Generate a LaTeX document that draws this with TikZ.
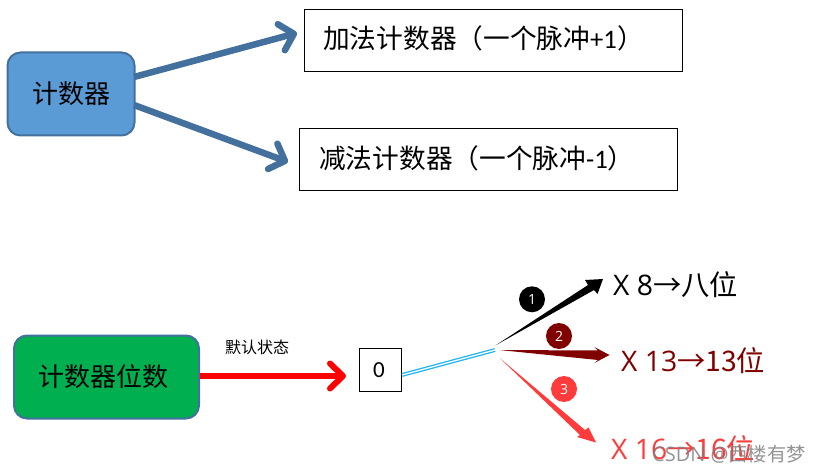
\documentclass[tikz,border=0pt]{standalone}
\usepackage{fontspec}
\setmainfont{Noto Sans CJK SC}
\newfontfamily\latinf{Carlito}
\newfontfamily\yah{Open Sans}
\usetikzlibrary{arrows.meta,calc}
\definecolor{blueedge}{HTML}{44709D}
\definecolor{bluefill}{HTML}{5B9BD5}
\definecolor{greenfill}{HTML}{00B050}
\definecolor{darkred}{HTML}{800000}
\definecolor{brightred}{HTML}{FF3B3B}
\definecolor{cyanline}{HTML}{1FB4F0}
\tikzset{
  x=1pt,y=-1pt,
  roundbox/.style={draw=blueedge,line width=2pt,rounded corners=13pt,inner sep=0pt,align=center,font=\fontsize{26}{26}\selectfont},
  textbox/.style={draw=black,line width=1pt,fill=white,inner sep=0pt},
  label/.style={inner sep=0pt,anchor=west},
  bigarrow/.style={line width=6.5pt,-{Straight Barb[length=13pt,width=27pt,round]}},
  badge/.style={circle,minimum size=26pt,inner sep=0pt,text=white,font=\yah\fontsize{14}{14}\selectfont},
  pick/.style={inner sep=0pt,font=\fontsize{28.3}{28.3}\selectfont,anchor=west},
}
\begin{document}
\begin{tikzpicture}
\useasboundingbox (0,0) rectangle (822,473);
\node[roundbox,fill=bluefill,minimum width=127pt,minimum height=83pt] (counter) at (71,94) {计数器};
\node[textbox,minimum width=378pt,minimum height=62pt] (add) at (493.5,40.5) {};
\node[label,font=\fontsize{26.7}{26.7}\selectfont] (addt) at (323,38) {加法计数器（一个脉冲{\latinf +1}）};
\node[textbox,minimum width=378pt,minimum height=62pt] (sub) at (488.5,159.5) {};
\node[label,font=\fontsize{26.7}{26.7}\selectfont] (subt) at (319,158) {减法计数器（一个脉冲{\latinf -1}）};
\coordinate (addtip) at (297,33);
\coordinate (subtip) at (288,162);
\coordinate (cta) at (134,77);
\coordinate (ctb) at (134,105);
\draw[blueedge,bigarrow] (cta) -- (addtip);
\draw[blueedge,bigarrow] (ctb) -- (subtip);

\node[roundbox,fill=greenfill,minimum width=185pt,minimum height=83pt,text width=185pt,xshift=-3pt] (width) at (109.5,377) {\hspace*{-6pt}计数器位数};
\node[textbox,minimum width=42pt,minimum height=43pt,font=\latinf\fontsize{23}{23}\selectfont] (zero) at (380.5,370) {\hspace*{-3pt}0};
\node[inner sep=0pt,font=\fontsize{16}{16}\selectfont] (state) at (257,347) {默认状态};
\coordinate (redtip) at (346,376);
\draw[red,line width=6pt,-{Straight Barb[length=13pt,width=25pt,round]}] (width.east |- redtip) -- (redtip);
\coordinate (split) at (495,350);
\draw[cyanline,line width=1.3pt,double=white,double distance=1.3pt] (402,375) -- (split);

\coordinate (as) at (495.7,345.3);
\coordinate (bs) at (499.3,350);
\coordinate (cs) at (500,358.3);
\coordinate (at) at (603,279);
\coordinate (bt) at (609.5,355);
\coordinate (ct) at (596,442.5);
\fill[black] (as) -- (588,285) -- (585,280) -- (at) -- (597.5,294) -- (594,290) -- cycle;
\fill[darkred] (bs) -- (598,350.5) -- (594.3,347) -- (bt) -- (594.3,363) -- (598,360) -- cycle;
\fill[brightred] (cs) -- (585,430) -- (588.5,427.5) -- (ct) -- (577,437) -- (580,435) -- cycle;

\node[badge,fill=black] (one) at (532,299.3) {1};
\node[badge,fill=darkred] (two) at (559,336) {2};
\node[badge,fill=brightred] (three) at (564,389) {3};

\node[pick,text=black] (xa) at (613,285) {{\yah X 8}→八位};
\node[pick,text=darkred] (xb) at (621,361) {{\yah X 13}→13位};
\node[pick,text=brightred] (xc) at (611,449) {{\yah X 16}→16位};
\node[inner sep=0pt,anchor=east,text=gray,opacity=.85,font=\fontsize{19.3}{19.3}\selectfont] (mark) at (806,454) {{\yah\fontsize{20}{20}\selectfont CSDN @}西楼有梦};
\end{tikzpicture}
\end{document}
